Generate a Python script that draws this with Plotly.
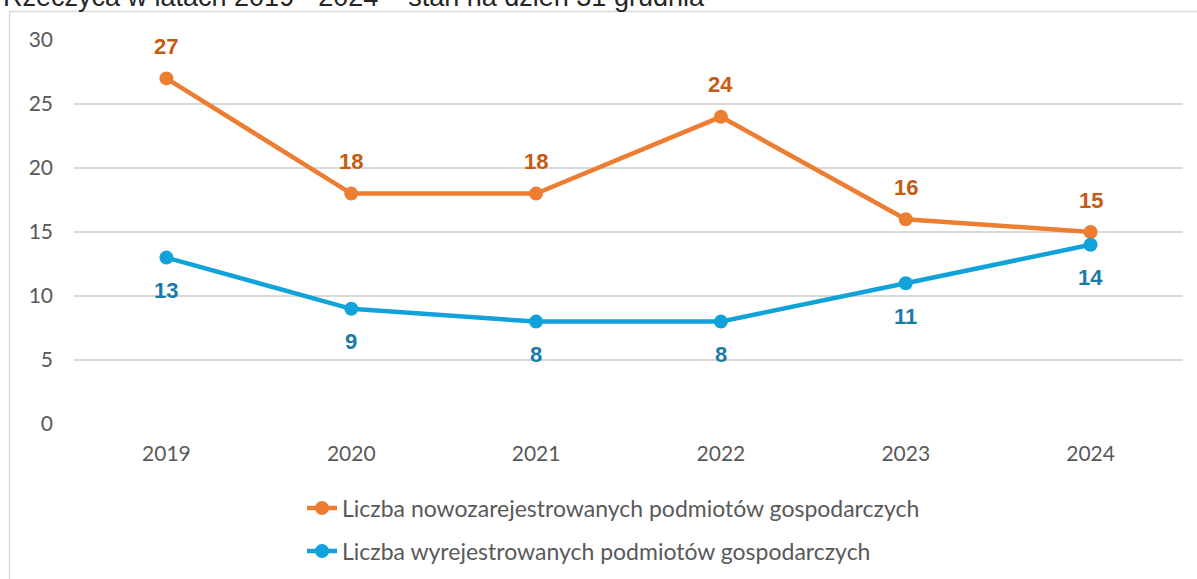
import plotly.graph_objects as go

years = ["2019", "2020", "2021", "2022", "2023", "2024"]
registered = [27, 18, 18, 24, 16, 15]
deregistered = [13, 9, 8, 8, 11, 14]
name_reg = "Liczba nowozarejestrowanych podmiotów gospodarczych"
name_dereg = "Liczba wyrejestrowanych podmiotów gospodarczych"
title_text = "Rzeczyca w latach 2019 - 2024 – stan na dzień 31 grudnia"
y_ticks = [0, 5, 10, 15, 20, 25, 30]

ORANGE = "#ED7D31"
ORANGE_LBL = "#C55A11"
BLUE = "#12A2DA"
BLUE_LBL = "#1A7BA8"
GREY = "#595959"
GRID = "#D9D9D9"

W, H = 1197, 579
L, R, T, B = 74, 14, 40, 155
PH = H - T - B

def py2paper(py):
    return (H - B - py) / PH

def px2paper(px):
    return (px - L) / (W - L - R)

fig = go.Figure()
fig.add_trace(go.Scatter(
    x=years, y=registered, name=name_reg, mode="lines+markers",
    line=dict(color=ORANGE, width=4.5), marker=dict(color=ORANGE, size=14),
    legend="legend"))
fig.add_trace(go.Scatter(
    x=years, y=deregistered, name=name_dereg, mode="lines+markers",
    line=dict(color=BLUE, width=4.5), marker=dict(color=BLUE, size=14),
    legend="legend2"))

label_font = "Liberation Sans, Arial, sans-serif"
for i, yv in enumerate(registered):
    fig.add_annotation(x=i, y=yv, xref="x", yref="y", text=str(yv), showarrow=False,
                       yshift=32,
                       font=dict(family=label_font, size=22, color=ORANGE_LBL, weight="bold"))
for i, yv in enumerate(deregistered):
    fig.add_annotation(x=i, y=yv, xref="x", yref="y", text=str(yv), showarrow=False,
                       yshift=-33,
                       font=dict(family=label_font, size=22, color=BLUE_LBL, weight="bold"))

fig.add_annotation(xref="paper", yref="paper", x=px2paper(1), y=py2paper(14),
                   xanchor="left", yanchor="bottom", showarrow=False,
                   text=title_text,
                   font=dict(family="Liberation Sans, Arial, sans-serif", size=27, color="#262626"))

fig.add_shape(type="rect", xref="paper", yref="paper",
              x0=px2paper(9.5), x1=px2paper(1260), y0=py2paper(11.5), y1=py2paper(640),
              line=dict(color=GRID, width=1.5), fillcolor="rgba(0,0,0,0)", layer="below")

tick_font = dict(family="Lato, Carlito, sans-serif", size=21, color=GREY)
legend_font = dict(family="Lato, Carlito, sans-serif", size=23, color=GREY)
fig.update_layout(
    width=W, height=H,
    margin=dict(l=L, r=R, t=T, b=B, autoexpand=False),
    plot_bgcolor="white", paper_bgcolor="white",
    xaxis=dict(type="category", showgrid=False, zeroline=False, showline=False,
               ticks="", tickfont=tick_font, ticklabelstandoff=15,
               range=[-0.5, 5.5]),
    yaxis=dict(range=[0, 30], tickvals=y_ticks, showgrid=True, gridcolor=GRID,
               gridwidth=1.5, zeroline=False, showline=False, ticks="",
               tickfont=tick_font, ticklabelstandoff=20),
    legend=dict(xref="container", yref="container", x=302 / W, y=(H - 508) / H,
                xanchor="left", yanchor="middle",
                font=legend_font, bgcolor="rgba(0,0,0,0)"),
    legend2=dict(xref="container", yref="container", x=302 / W, y=(H - 551) / H,
                 xanchor="left", yanchor="middle",
                 font=legend_font, bgcolor="rgba(0,0,0,0)"),
    showlegend=True,
)

fig.write_html("out.html", config={"displayModeBar": False},
               post_script="document.body.style.margin='0';")
